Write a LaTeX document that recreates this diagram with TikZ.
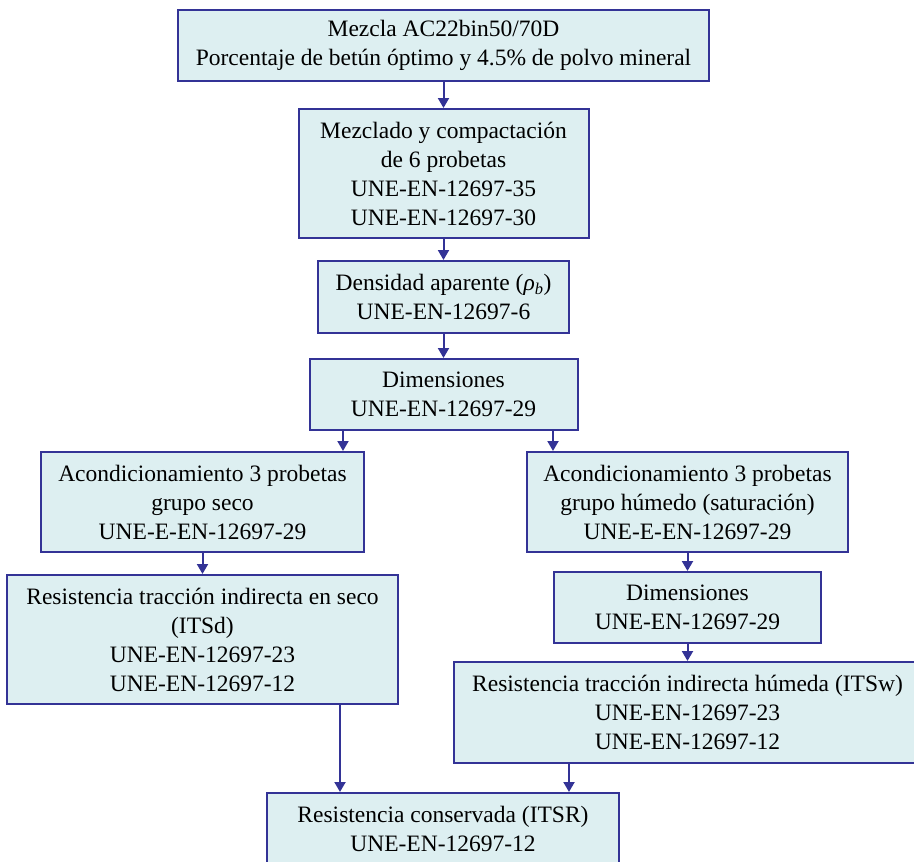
\documentclass[tikz,border=0pt]{standalone}
\usepackage{fontspec}
\setmainfont{Liberation Serif}
\usetikzlibrary{positioning,arrows.meta}
\definecolor{boxfill}{RGB}{221,239,241}
\definecolor{boxline}{RGB}{51,51,150}

\begin{document}
\begin{tikzpicture}
    [x=1pt,y=1pt,node distance=24pt,
     paso/.style={draw=boxline,fill=boxfill,line width=2pt,align=center,
                  inner sep=0pt,font=\fontsize{23.5}{29}\selectfont},
     flecha/.style={draw=boxline,line width=2pt,-{Triangle[width=11pt,length=10pt]}}]
    \useasboundingbox (0,0) rectangle (914,-862);
    \node[paso,minimum width=531pt,minimum height=71pt] (mezcla) at (443.5,-45.5)
        {Mezcla AC22bin50/70D\\Porcentaje de betún óptimo y 4.5\% de polvo mineral};
    \node[paso,minimum width=290pt,minimum height=129pt] (mezclado) [below=26pt of mezcla]
        {Mezclado y compactación\\de 6 probetas\\UNE-EN-12697-35\\UNE-EN-12697-30};
    \node[paso,minimum width=251pt,minimum height=72pt] (densidad) [below=21pt of mezclado]
        {Densidad aparente (\textit{ρ\textsubscript{b}})\\UNE-EN-12697-6};
    \node[paso,minimum width=268pt,minimum height=71pt] (dimen) [below=24pt of densidad]
        {Dimensiones\\UNE-EN-12697-29};
    \node[paso,minimum width=323pt,minimum height=100pt] (acseco) at (202.5,-502)
        {Acondicionamiento 3 probetas\\grupo seco\\UNE-E-EN-12697-29};
    \node[paso,minimum width=321pt,minimum height=100pt] (achumedo) at (687.5,-502)
        {Acondicionamiento 3 probetas\\grupo húmedo (saturación)\\UNE-E-EN-12697-29};
    \node[paso,minimum width=391pt,minimum height=129pt] (itsd) [below=21pt of acseco]
        {Resistencia tracción indirecta en seco\\(ITSd)\\UNE-EN-12697-23\\UNE-EN-12697-12};
    \node[paso,minimum width=267pt,minimum height=71pt] (dimenh) [below=18pt of achumedo]
        {Dimensiones\\UNE-EN-12697-29};
    \node[paso,minimum width=468pt,minimum height=101pt] (itsw) [below=17pt of dimenh]
        {Resistencia tracción indirecta húmeda (ITSw)\\UNE-EN-12697-23\\UNE-EN-12697-12};
    \node[paso,minimum width=352pt,minimum height=71pt] (itsr) at (443,-828.5)
        {Resistencia conservada (ITSR)\\UNE-EN-12697-12};
    % conectores
    \draw[flecha] (mezcla) -- (mezclado);
    \draw[flecha] (mezclado) -- (densidad);
    \draw[flecha] (densidad) -- (dimen);
    \draw[flecha] ([xshift=-22pt]acseco.north east |- dimen.south) -- ([xshift=-22pt]acseco.north east);
    \draw[flecha] ([xshift=27pt]achumedo.north west |- dimen.south) -- ([xshift=27pt]achumedo.north west);
    \draw[flecha] (acseco) -- (itsd);
    \draw[flecha] (achumedo) -- (dimenh);
    \draw[flecha] (dimenh) -- (itsw);
    \draw[flecha] ([xshift=74pt]itsr.north west |- itsd.south) -- ([xshift=74pt]itsr.north west);
    \draw[flecha] ([xshift=-51pt]itsr.north east |- itsw.south) -- ([xshift=-51pt]itsr.north east);
\end{tikzpicture}
\end{document}
